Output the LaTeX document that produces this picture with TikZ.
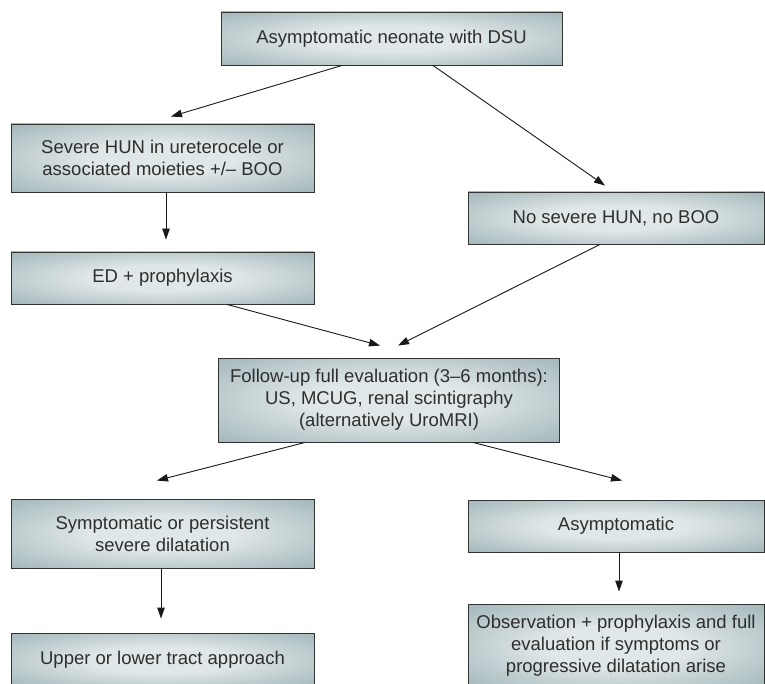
\documentclass[tikz,border=0pt]{standalone}
\usepackage{fontspec}
\setmainfont{Liberation Sans}
\usetikzlibrary{arrows.meta,calc}
\definecolor{shC}{HTML}{E0E7E8}
\definecolor{shE}{HTML}{8DA5A9}
\definecolor{txt}{HTML}{2E2E2E}
\pgfdeclareradialshading{boxshade}{\pgfpoint{0bp}{0bp}}{color(0bp)=(shC); color(12bp)=(shC); color(44bp)=(shE); color(75bp)=(shE)}
\begin{document}
\begin{tikzpicture}[x=1pt,y=-1pt,
  box/.style={draw=black!80, line width=0.9pt, shading=boxshade, text=txt,
    inner sep=0pt, align=center, font=\fontsize{18.5}{22}\selectfont},
  arr/.style={draw=black!90, line width=0.9pt, -{Triangle[length=11pt,width=7.5pt]}}]
\useasboundingbox (0,0) rectangle (765,684);
\clip (0,0) rectangle (765,684);
\node[box, minimum width=341pt, minimum height=53pt] (top) at (391.5,38.5) {Asymptomatic neonate with DSU};
\node[box, minimum width=303pt, minimum height=68pt] (sev) at (162.5,158) {Severe HUN in ureterocele or\\associated moieties +/-- BOO};
\node[box, minimum width=296pt, minimum height=52pt] (nosev) at (616,218) {No severe HUN, no BOO};
\node[box, minimum width=303pt, minimum height=52pt] (ed) at (162.5,278) {ED + prophylaxis};
\node[box, minimum width=341pt, minimum height=84pt] (fu) at (389,400) {Follow-up full evaluation (3--6 months):\\US, MCUG, renal scintigraphy\\(alternatively UroMRI)};
\node[box, minimum width=303pt, minimum height=69pt] (sym) at (162.5,533.5) {Symptomatic or persistent\\severe dilatation};
\node[box, minimum width=296pt, minimum height=52pt] (asym) at (616,526) {Asymptomatic};
\node[box, minimum width=303pt, minimum height=54pt] (upper) at (162.5,660) {Upper or lower tract approach};
\node[box, minimum width=296pt, minimum height=84pt] (obs) at (616,646) {Observation + prophylaxis and full\\evaluation if symptoms or\\progressive dilatation arise};
\draw[arr] ([xshift=-49.5pt]top.south) -- ([xshift=8.5pt,yshift=7pt]sev.north);
\draw[arr] ([xshift=41.5pt]top.south) -- ([xshift=-11pt,yshift=6pt]nosev.north);
\draw[arr] ([xshift=3.5pt]sev.south) -- ([xshift=3.5pt,yshift=12pt]ed.north);
\draw[arr] ([xshift=64.5pt]ed.south) -- ([xshift=-9pt,yshift=12pt]fu.north);
\draw[arr] ([xshift=-16pt]nosev.south) -- ([xshift=9pt,yshift=12pt]fu.north);
\draw[arr] ([xshift=-84pt]fu.south) -- ([xshift=-5.5pt,yshift=18pt]sym.north);
\draw[arr] ([xshift=84pt]fu.south) -- ([xshift=6pt,yshift=19pt]asym.north);
\draw[arr] ([xshift=-1.5pt]sym.south) -- ([xshift=-1.5pt,yshift=14pt]upper.north);
\draw[arr] ([xshift=3pt]asym.south) -- ([xshift=3pt,yshift=12pt]obs.north);
\end{tikzpicture}
\end{document}
